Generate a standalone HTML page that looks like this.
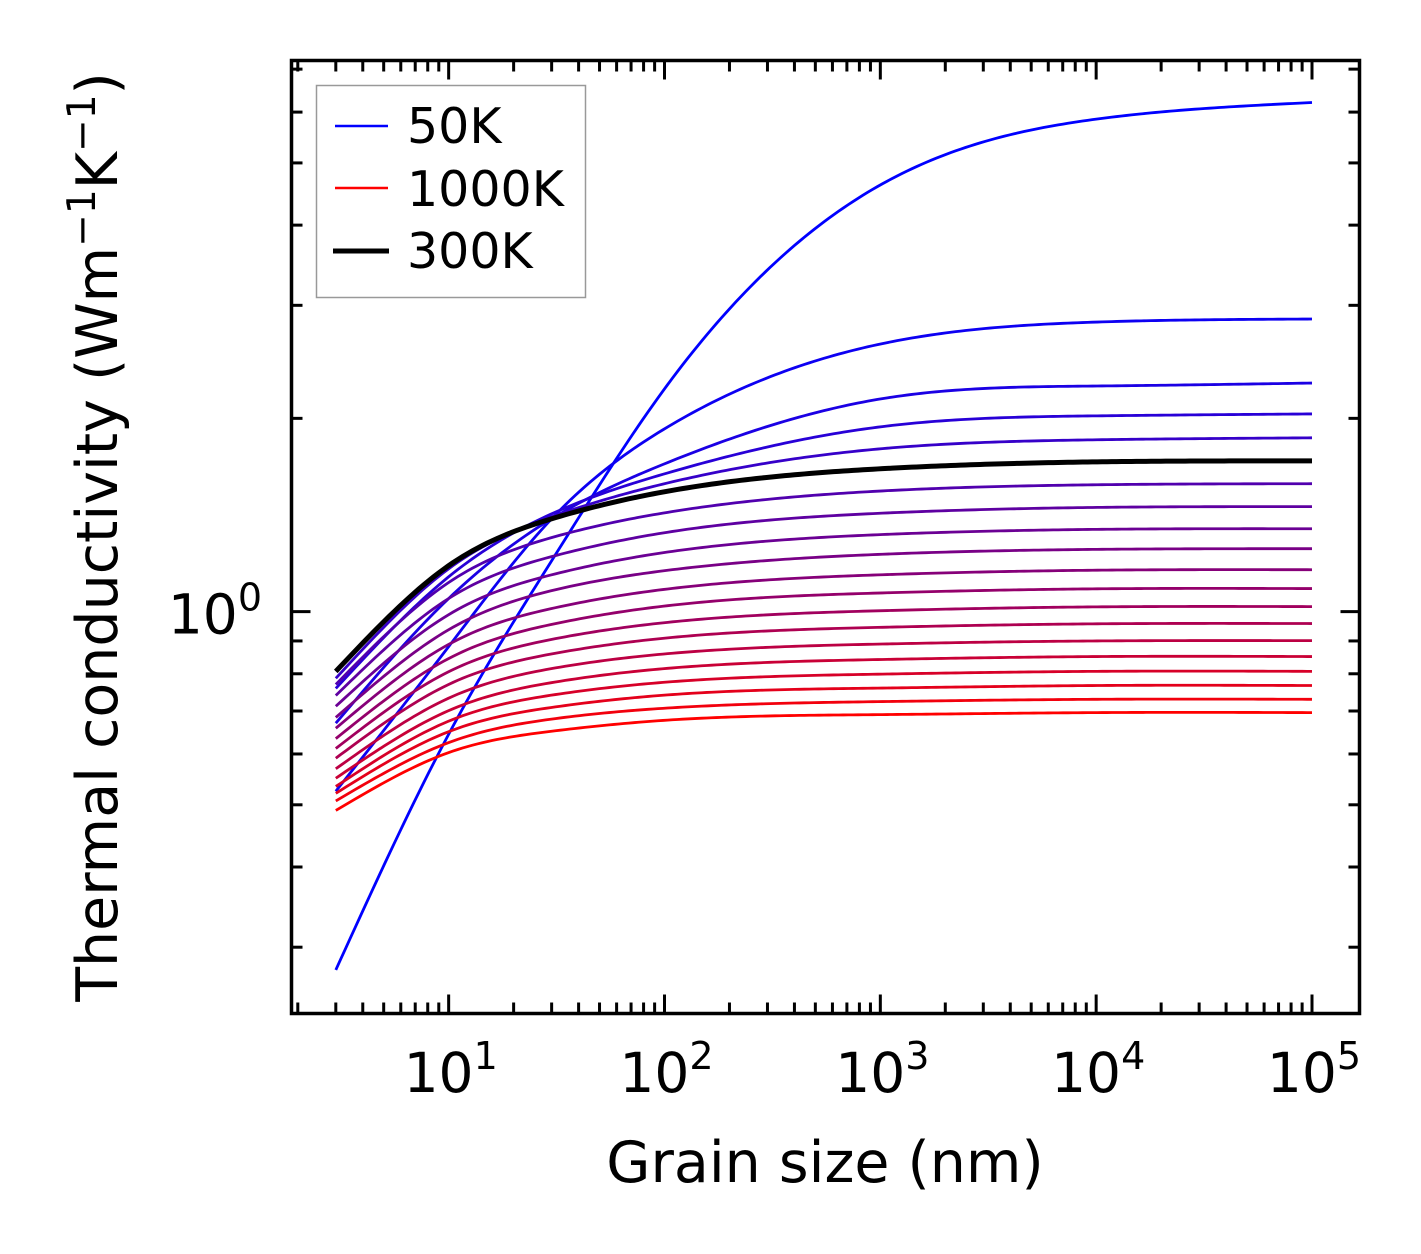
<!DOCTYPE html>
<html><head><meta charset="utf-8">
<style>
html,body{margin:0;padding:0;background:#fff;}
svg{display:block;font-family:"DejaVu Sans","Liberation Sans",sans-serif;}
</style></head>
<body>
<svg id="chart" width="1421" height="1254" viewBox="0 0 1421 1254" xmlns="http://www.w3.org/2000/svg">
<rect x="0" y="0" width="1421" height="1254" fill="#fff"/>
<g id="curves"></g>
<g id="ticks"></g>
<rect x="291.5" y="60.5" width="1068" height="953" fill="none" stroke="#000" stroke-width="3.5"/>
<g id="labels"></g>
<text x="825" y="1182" font-size="57" text-anchor="middle">Grain size (nm)</text>
<text transform="translate(117,537) rotate(-90)" font-size="57" text-anchor="middle">Thermal conductivity (Wm<tspan font-size="39" dy="-22">−1</tspan><tspan dy="22">K</tspan><tspan font-size="39" dy="-22">−1</tspan><tspan dy="22">)</tspan></text>
<g>
<rect x="316.5" y="85.5" width="269" height="212" fill="#fff" stroke="#999" stroke-width="1.5"/>
<line x1="335" y1="126" x2="388" y2="126" stroke="#0000ff" stroke-width="2.5"/>
<text x="407" y="143" font-size="49">50K</text>
<line x1="335" y1="188" x2="388" y2="188" stroke="#ff0000" stroke-width="2.5"/>
<text x="407" y="206" font-size="49">1000K</text>
<line x1="333" y1="251" x2="389" y2="251" stroke="#000" stroke-width="5"/>
<text x="407" y="268" font-size="49">300K</text>
</g>
</svg>
<script>
const grainSizes = [3, 10, 30, 100, 1000, 10000, 100000];
const temperatures = [50,100,150,200,250,300,350,400,450,500,550,600,650,700,750,800,850,900,950,1000];
const k50 = [0.2765, 0.644, 1.200, 2.223, 4.62, 5.85, 6.21];
const k100 = [0.525, 0.882, 1.395, 1.926, 2.611, 2.825, 2.856];
const k150 = [0.670, 1.048, 1.395, 1.699, 2.144, 2.246, 2.270];
const k200 = [0.759, 1.133, 1.420, 1.639, 1.940, 2.018, 2.032];
const k250 = [0.787, 1.166, 1.405, 1.582, 1.793, 1.852, 1.865];
const k300 = [0.807, 1.179, 1.395, 1.537, 1.669, 1.711, 1.717];
const k350 = [0.770, 1.110, 1.304, 1.425, 1.541, 1.576, 1.582];
const k400 = [0.740, 1.048, 1.218, 1.327, 1.423, 1.453, 1.457];
const k450 = [0.712, 0.989, 1.141, 1.236, 1.318, 1.343, 1.346];
const k500 = [0.684, 0.937, 1.078, 1.158, 1.228, 1.250, 1.253];
const k550 = [0.658, 0.889, 1.011, 1.083, 1.141, 1.160, 1.162];
const k600 = [0.634, 0.845, 0.955, 1.020, 1.069, 1.085, 1.086];
const k650 = [0.612, 0.806, 0.905, 0.961, 1.003, 1.017, 1.018];
const k700 = [0.591, 0.770, 0.859, 0.909, 0.945, 0.957, 0.958];
const k750 = [0.569, 0.733, 0.815, 0.859, 0.890, 0.900, 0.901];
const k800 = [0.550, 0.701, 0.775, 0.815, 0.842, 0.851, 0.851];
const k850 = [0.534, 0.675, 0.741, 0.776, 0.799, 0.807, 0.807];
const k900 = [0.521, 0.650, 0.709, 0.741, 0.760, 0.767, 0.767];
const k950 = [0.507, 0.625, 0.680, 0.707, 0.724, 0.730, 0.730];
const k1000 = [0.490, 0.603, 0.651, 0.677, 0.691, 0.696, 0.696];
const series = [k50,k100,k150,k200,k250,k300,k350,k400,k450,k500,k550,k600,k650,k700,k750,k800,k850,k900,k950,k1000];
const xTickValues = [10, 100, 1000, 10000, 100000];
const xTickExps = ["1","2","3","4","5"];
const yTickValues = [1];
const yTickExps = ["0"];
const highlightTemp = 300;

const NS = "http://www.w3.org/2000/svg";
const X0 = 291.5, X1 = 1359.5, Y0 = 60.5, Y1 = 1013.5;
const xMin = Math.log10(1.87), xMax = Math.log10(166000);
const yMin = Math.log10(0.2365), yMax = Math.log10(7.22);
function xs(v){ return X0 + (Math.log10(v) - xMin) / (xMax - xMin) * (X1 - X0); }
function ys(v){ return Y1 - (Math.log10(v) - yMin) / (yMax - yMin) * (Y1 - Y0); }

// natural cubic spline
function spline(xa, ya){
  const n = xa.length, h = [], al = [], l = [1], mu = [0], z = [0], c = new Array(n).fill(0), b = [], d = [];
  for (let i=0;i<n-1;i++) h.push(xa[i+1]-xa[i]);
  for (let i=1;i<n-1;i++) al[i] = 3/h[i]*(ya[i+1]-ya[i]) - 3/h[i-1]*(ya[i]-ya[i-1]);
  for (let i=1;i<n-1;i++){
    l[i] = 2*(xa[i+1]-xa[i-1]) - h[i-1]*mu[i-1];
    mu[i] = h[i]/l[i];
    z[i] = (al[i] - h[i-1]*z[i-1])/l[i];
  }
  for (let j=n-2;j>=0;j--){
    c[j] = (j>0 ? z[j] - mu[j]*c[j+1] : 0);
    b[j] = (ya[j+1]-ya[j])/h[j] - h[j]*(c[j+1]+2*c[j])/3;
    d[j] = (c[j+1]-c[j])/(3*h[j]);
  }
  return function(x){
    let i=0; while(i<n-2 && x>xa[i+1]) i++;
    const t = x - xa[i];
    return ya[i] + b[i]*t + c[i]*t*t + d[i]*t*t*t;
  };
}

function curvePath(vals){
  const lx = grainSizes.map(Math.log10), ly = vals.map(Math.log10);
  const f = spline(lx, ly);
  let d = "";
  const N = 200;
  for (let j=0;j<=N;j++){
    const l = lx[0] + (lx[lx.length-1]-lx[0])*j/N;
    const v = Math.pow(10, f(l));
    d += (j? "L":"M") + xs(Math.pow(10,l)).toFixed(2) + "," + ys(v).toFixed(2);
  }
  return d;
}

const gC = document.getElementById("curves");
series.forEach((vals, i) => {
  const t = i / (series.length - 1);
  const p = document.createElementNS(NS, "path");
  p.setAttribute("d", curvePath(vals));
  p.setAttribute("fill", "none");
  p.setAttribute("stroke", "rgb(" + Math.round(255*t) + ",0," + Math.round(255*(1-t)) + ")");
  p.setAttribute("stroke-width", "2.8");
  
  
  gC.appendChild(p);
});
const hi = document.createElementNS(NS, "path");
hi.setAttribute("d", curvePath(series[temperatures.indexOf(highlightTemp)]));
hi.setAttribute("fill", "none");
hi.setAttribute("stroke", "#000");
hi.setAttribute("stroke-width", "5");


gC.appendChild(hi);

const gT = document.getElementById("ticks");
function tick(x1,y1,x2,y2,name){
  const l = document.createElementNS(NS, "line");
  l.setAttribute("x1",x1); l.setAttribute("y1",y1); l.setAttribute("x2",x2); l.setAttribute("y2",y2);
  l.setAttribute("stroke","#000"); l.setAttribute("stroke-width","3");
  
  
  gT.appendChild(l);
}
for (let e=0;e<=5;e++){
  for (let k=1;k<=9;k++){
    const v = k*Math.pow(10,e);
    if (v < 1.87 || v > 166000) continue;
    const x = xs(v), L = (k===1) ? 19 : 11;
    tick(x, Y1, x, Y1-L, k===1 ? 'x-major-tick' : 'x-minor-tick');
    tick(x, Y0, x, Y0+L, k===1 ? 'x-major-tick-top' : 'x-minor-tick-top');
  }
}
for (let e=-1;e<=0;e++){
  for (let k=1;k<=9;k++){
    const v = k*Math.pow(10,e);
    if (v < 0.2365 || v > 7.22) continue;
    const y = ys(v), L = (k===1) ? 19 : 11;
    tick(X0, y, X0+L, y, k===1 ? 'y-major-tick' : 'y-minor-tick');
    tick(X1, y, X1-L, y, k===1 ? 'y-major-tick-right' : 'y-minor-tick-right');
  }
}

const gL = document.getElementById("labels");
xTickValues.forEach((v,i) => {
  const t = document.createElementNS(NS, "text");
  t.setAttribute("x", xs(v) + 2); t.setAttribute("y", 1092);
  t.setAttribute("font-size", "55"); t.setAttribute("text-anchor", "middle");
  t.innerHTML = '10<tspan font-size="38" dy="-23">' + xTickExps[i] + '</tspan>';
  
  
  gL.appendChild(t);
});
yTickValues.forEach((v,i) => {
  const t = document.createElementNS(NS, "text");
  t.setAttribute("x", 262); t.setAttribute("y", ys(v) + 22);
  t.setAttribute("font-size", "55"); t.setAttribute("text-anchor", "end");
  t.innerHTML = '10<tspan font-size="38" dy="-23">' + yTickExps[i] + '</tspan>';
  
  
  gL.appendChild(t);
});
</script>
</body></html>
